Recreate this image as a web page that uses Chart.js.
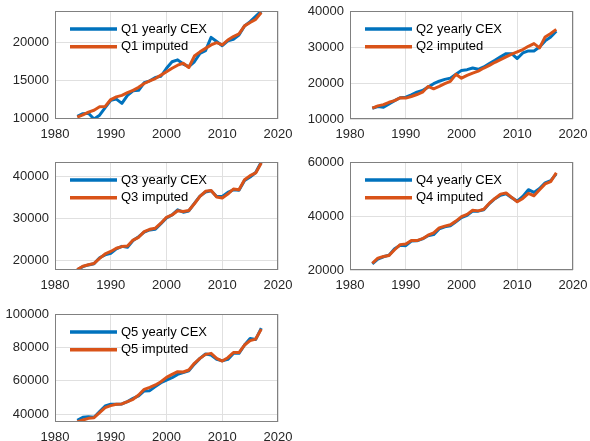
<!DOCTYPE html>
<html lang="en">
<head>
    <meta charset="UTF-8">
    <title>Yearly CEX vs imputed, by quintile</title>
    <script src="https://cdn.jsdelivr.net/npm/chart.js"></script>
    <style>
        html, body {
            margin: 0;
            padding: 0;
            background: #fff;
            overflow: hidden;
        }
        body {
            width: 590px;
            height: 441px;
            position: relative;
        }
        canvas {
            position: absolute;
        }
    </style>
</head>
<body>
    <canvas id="p1" width="295" height="145" style="left:0;top:0"></canvas>
    <canvas id="p2" width="295" height="145" style="left:295px;top:0"></canvas>
    <canvas id="p3" width="295" height="145" style="left:0;top:151px"></canvas>
    <canvas id="p4" width="295" height="145" style="left:295px;top:151px"></canvas>
    <canvas id="p5" width="295" height="145" style="left:0;top:303px"></canvas>

    <script>
        const years = [1984, 1985, 1986, 1987, 1988, 1989, 1990, 1991, 1992, 1993, 1994, 1995,
                       1996, 1997, 1998, 1999, 2000, 2001, 2002, 2003, 2004, 2005, 2006, 2007,
                       2008, 2009, 2010, 2011, 2012, 2013, 2014, 2015, 2016, 2017];

        const q1Cex = [10300, 10650, 10700, 9950, 10450, 11450, 12400, 12550, 12000, 13050, 13650, 13700,
                       14700, 14950, 15400, 15550, 16600, 17450, 17700, 17150, 16800, 17450, 18550, 18900,
                       20650, 20100, 19550, 20200, 20400, 20950, 22150, 22700, 23400, 24100];
        const q1Imp = [10200, 10500, 10850, 11100, 11550, 11600, 12500, 12850, 13050, 13400, 13700, 14100,
                       14600, 14950, 15250, 15700, 16150, 16600, 17000, 17250, 16700, 18200, 18750, 19200,
                       19650, 19950, 19650, 20300, 20750, 21100, 22150, 22600, 23000, 23900];

        const q2Cex = [13000, 13450, 13250, 14200, 15100, 15900, 16050, 16700, 17450, 17900, 18850, 19800,
                       20500, 21000, 21350, 22400, 23500, 23700, 24150, 23800, 24450, 25400, 26300, 27250,
                       28150, 28150, 26800, 28350, 28900, 28900, 30000, 31700, 32800, 34400];
        const q2Imp = [13000, 13650, 14000, 14650, 15100, 15900, 15800, 16250, 16800, 17450, 19050, 18400,
                       19050, 19800, 20450, 22400, 21350, 22100, 22750, 23300, 24150, 24900, 25750, 26500,
                       27250, 28000, 28650, 29300, 30200, 30950, 29750, 32800, 33750, 34900];

        const q3Cex = [17850, 18600, 19000, 19300, 20700, 21400, 21750, 22800, 23400, 23200, 24800, 25700,
                       26800, 27300, 27450, 28800, 30150, 30850, 32050, 31500, 31800, 33600, 35300, 36300,
                       36600, 35200, 35250, 36200, 36800, 36700, 39000, 39850, 40900, 43400];
        const q3Imp = [17900, 18700, 19050, 19350, 20550, 21600, 22200, 22950, 23350, 23500, 24900, 25550,
                       26900, 27450, 27700, 28900, 30300, 30850, 31850, 31650, 31900, 33500, 35250, 36450,
                       36650, 35100, 34850, 35800, 37000, 36800, 39200, 40150, 40800, 43150];

        const q4Cex = [22300, 24000, 24900, 25500, 27900, 29200, 29000, 30700, 30800, 31500, 32700, 33100,
                       35200, 36000, 36400, 37900, 39400, 40250, 41800, 41800, 42300, 44600, 46400, 47700,
                       48200, 46800, 45500, 47250, 49750, 48750, 50200, 52300, 53100, 55600];
        const q4Imp = [22500, 24400, 25000, 25400, 27500, 29400, 29600, 30900, 30900, 31600, 32900, 33750,
                       35600, 36250, 36750, 38100, 39750, 40600, 42100, 41900, 42500, 44750, 46500, 48100,
                       48500, 46900, 45250, 46500, 48400, 47500, 49750, 51900, 52750, 56000];

        const q5Cex = [36400, 38200, 38600, 38200, 41600, 45000, 46000, 46000, 46200, 47600, 49500, 51000,
                       53950, 54150, 56550, 58900, 60500, 61900, 63900, 64900, 66000, 70000, 73450, 76050,
                       75450, 72850, 72050, 72850, 76450, 76450, 81450, 85400, 84800, 91550];
        const q5Imp = [35400, 36600, 37600, 38000, 41000, 44000, 45200, 46000, 46200, 47600, 49000, 51550,
                       54950, 56150, 57550, 59500, 62100, 63900, 65500, 65300, 66500, 70500, 73450, 75850,
                       76450, 73450, 71850, 73850, 76900, 76900, 81450, 84050, 85000, 90950];

        const xTicks = [1980, 1990, 2000, 2010, 2020];

        const blue = '#0072BD';
        const orange = '#D95319';
        const textColor = '#262626';
        const gridColor = '#e0e0e0';
        const font = { family: '"Liberation Sans", Arial, Helvetica, sans-serif', size: 13 };

        // axes box + legend drawn inside the top-left of the plot, like matlab "legend boxoff"
        const boxAndLegend = {
            id: 'boxAndLegend',
            afterDatasetsDraw(chart) {
                const ctx = chart.ctx;
                const a = chart.chartArea;
                ctx.save();
                ctx.strokeStyle = '#808080';
                ctx.lineWidth = 1;
                ctx.strokeRect(Math.round(a.left) + 0.5, Math.round(a.top) + 0.5,
                               Math.round(a.right - a.left) - 1, Math.round(a.bottom - a.top) - 1);

                ctx.font = font.size + 'px ' + font.family;
                ctx.textBaseline = 'middle';
                chart.data.datasets.forEach((ds, i) => {
                    const y = a.top + 18 + i * 17.7;
                    ctx.strokeStyle = ds.borderColor;
                    ctx.lineWidth = 3.5;
                    ctx.beginPath();
                    ctx.moveTo(a.left + 15, y);
                    ctx.lineTo(a.left + 62, y);
                    ctx.stroke();
                    ctx.fillStyle = '#000';
                    ctx.fillText(ds.label, a.left + 66, y);
                });
                ctx.restore();
            }
        };

        function makePanel(id, name, cex, imp, yMin, yMax, yStep) {
            const toPoints = vals => years.map((yr, i) => ({ x: yr, y: vals[i] }));
            return new Chart(document.getElementById(id), {
                type: 'line',
                data: {
                    datasets: [
                        { label: name + ' yearly CEX', data: toPoints(cex), borderColor: blue, borderWidth: 3, order: 2 },
                        { label: name + ' imputed', data: toPoints(imp), borderColor: orange, borderWidth: 3, order: 1 }
                    ]
                },
                options: {
                    responsive: false,
                    animation: false,
                    devicePixelRatio: 1,
                    layout: { padding: { top: 11, right: 17, bottom: 4, left: 0 } },
                    elements: {
                        point: { radius: 0 },
                        line: { tension: 0, fill: false, borderJoinStyle: 'round' }
                    },
                    plugins: {
                        legend: { display: false },
                        tooltip: { enabled: false }
                    },
                    scales: {
                        x: {
                            type: 'linear',
                            min: xTicks[0],
                            max: xTicks[xTicks.length - 1],
                            ticks: { font: font, color: textColor, padding: 8, maxRotation: 0, callback: v => String(v) },
                            grid: { color: gridColor, drawTicks: false },
                            border: { display: false },
                            afterBuildTicks(s) { s.ticks = xTicks.map(v => ({ value: v })); },
                            afterFit(s) { s.height = 22; s.paddingLeft = 0; s.paddingRight = 0; }
                        },
                        y: {
                            min: yMin,
                            max: yMax,
                            ticks: { font: font, color: textColor, padding: 6, callback: v => String(v) },
                            grid: { color: gridColor, drawTicks: false },
                            border: { display: false },
                            afterBuildTicks(s) {
                                const t = [];
                                for (let v = Math.ceil(yMin / yStep) * yStep; v <= yMax; v += yStep) t.push({ value: v });
                                s.ticks = t;
                            },
                            afterFit(s) { s.width = 55; s.paddingTop = 0; s.paddingBottom = 0; }
                        }
                    }
                },
                plugins: [boxAndLegend]
            });
        }

        makePanel('p1', 'Q1', q1Cex, q1Imp, 9950, 24100, 5000);
        makePanel('p2', 'Q2', q2Cex, q2Imp, 10000, 40000, 10000);
        makePanel('p3', 'Q3', q3Cex, q3Imp, 17800, 43400, 10000);
        makePanel('p4', 'Q4', q4Cex, q4Imp, 20000, 60000, 20000);
        makePanel('p5', 'Q5', q5Cex, q5Imp, 35400, 100000, 20000);
    </script>
</body>
</html>
